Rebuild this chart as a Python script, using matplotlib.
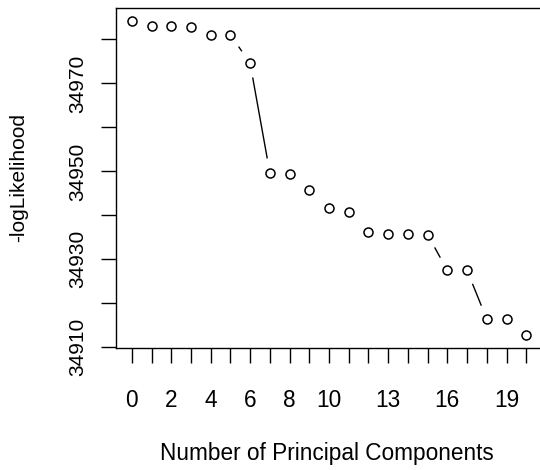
import matplotlib
matplotlib.use("Agg")
import matplotlib.pyplot as plt
import numpy as np

plt.rcParams["font.family"] = ["Liberation Sans", "DejaVu Sans"]

# number of principal components and the fitted -logLikelihood
n_pc = list(range(21))
neg_loglik = [34984.3, 34983.1, 34983.1, 34982.8, 34981.1, 34981.1, 34974.6,
              34949.7, 34949.5, 34945.7, 34941.6, 34940.8, 34936.2, 34935.8,
              34935.8, 34935.6, 34927.5, 34927.5, 34916.4, 34916.4, 34912.7]
y_ticks = [34910, 34920, 34930, 34940, 34950, 34960, 34970, 34980]
y_labels = ["34910", "", "34930", "", "34950", "", "34970", ""]
x_ticks = list(range(21))
x_labels = ["0", "", "2", "", "4", "", "6", "", "8", "", "10", "", "",
            "13", "", "", "16", "", "", "19", ""]

W, H = 540, 470
fig = plt.figure(figsize=(W / 100, H / 100), dpi=100)
# plot region runs past the right edge, as in the reference
ax = fig.add_axes([116 / W, (H - 348) / H, 426 / W, 340 / H])

x = np.array(n_pc, dtype=float)
y = np.array(neg_loglik)

# R-style padding of 4% on each side
xr = x.max() - x.min()
yr = y.max() - y.min()
ax.set_xlim(x.min() - 0.04 * xr, x.max() + 0.04 * xr)
ax.set_ylim(y.min() - 0.04 * yr, y.max() + 0.04 * yr)

# type="b": line segments with a gap around each point
gap = 14.5  # pixels
pix = ax.transData.transform(np.column_stack([x, y]))
inv = ax.transData.inverted()
for i in range(len(x) - 1):
    p0, p1 = pix[i], pix[i + 1]
    d = np.hypot(*(p1 - p0))
    if d <= 2 * gap:
        continue
    u = (p1 - p0) / d
    seg = inv.transform(np.vstack([p0 + u * gap, p1 - u * gap]))
    ax.plot(seg[:, 0], seg[:, 1], color="black", lw=1.0, solid_capstyle="butt")

ax.plot(x, y, linestyle="none", marker="o", markersize=6.5,
        markerfacecolor="white", markeredgecolor="black", markeredgewidth=1.1)

h_size = 16.3   # horizontal text
v_size = 15.0   # rotated text

ax.set_xticks(x_ticks)
ax.set_xticklabels(x_labels, fontsize=h_size)
ax.set_yticks(y_ticks)
ax.set_yticklabels(y_labels, rotation=90, va="center", fontsize=v_size)

ax.tick_params(axis="both", direction="out", length=10.8, width=1.0, colors="black")
ax.tick_params(axis="x", pad=18.5)
ax.tick_params(axis="y", pad=9.6)
for s in ax.spines.values():
    s.set_linewidth(1.0)

ax.set_xlabel("Number of Principal Components", fontsize=h_size)
ax.set_ylabel("-logLikelihood", fontsize=v_size)
ax.xaxis.set_label_coords((327 - 116) / 426, -(460 - 348) / 340)
ax.xaxis.label.set_va("baseline")
ax.yaxis.set_label_coords(-(116 - 19) / 426, 0.5)
ax.yaxis.label.set_va("center")

fig.savefig("out.png", dpi=100)
